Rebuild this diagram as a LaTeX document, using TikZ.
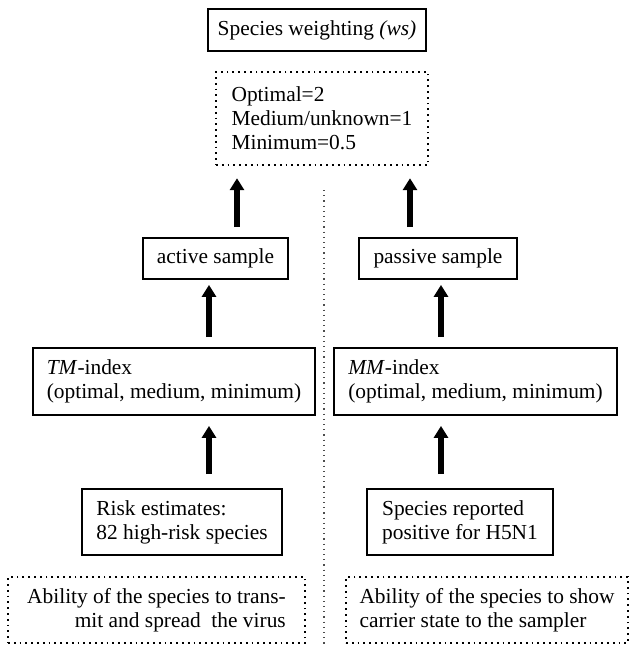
\documentclass[tikz,border=0pt]{standalone}
\usepackage{fontspec}
\setmainfont{Liberation Serif}
\usetikzlibrary{arrows.meta}

\begin{document}
\begin{tikzpicture}
[x = 0.5pt, y = -0.5pt, every node/.style = {shape = rectangle, draw, line width = 0.9pt, inner sep = 0pt, font = \fontsize{10.7}{12}\selectfont},
 dotbox/.style = {dotted, line width = 1.2pt},
 up/.style = {line width = 2.6pt, -{Triangle[width = 7pt, length = 6pt]}}]
\useasboundingbox (0,0) rectangle (635,645);
\node (ws) [minimum width = 109pt, minimum height = 21pt, line width = 1.3pt] at (317,30) {Species weighting \textit{(ws)}};
\node (wt) [dotbox, minimum width = 106pt, minimum height = 46.5pt, align = left] at (322,118.5) {Optimal=2\\Medium/unknown=1\\Minimum=0.5};
\node (act) [minimum width = 72.5pt, minimum height = 20.5pt] at (215.5,258.5) {active sample};
\node (pas) [minimum width = 79pt, minimum height = 20.5pt] at (438,258.5) {passive sample};
\node (tm) [minimum width = 141pt, minimum height = 33.5pt, align = left] at (174,381.5) {\textit{TM}-index\\(optimal, medium, minimum)};
\node (mm) [minimum width = 141.5pt, minimum height = 33.5pt, align = left] at (475.5,381.5) {\textit{MM}-index\\(optimal, medium, minimum)};
\node (risk) [minimum width = 100pt, minimum height = 33pt, align = left] at (182,522) {Risk estimates:\\82 high-risk species};
\node (rep) [minimum width = 93pt, minimum height = 33pt, align = left] at (460,522) {Species reported\\positive for H5N1};
\node (abl) [dotbox, minimum width = 148.5pt, minimum height = 33pt, align = right] at (156.5,610) {Ability of the species to trans-\\mit and spread\ \ the virus};
\node (abr) [dotbox, minimum width = 141pt, minimum height = 33pt, align = left] at (487,610) {Ability of the species to show\\carrier state to the sampler};

% arrow columns and the middle rule
\coordinate (xa) at (237,0);
\coordinate (xb) at (410,0);
\coordinate (xc) at (209,0);
\coordinate (xd) at (441,0);
\coordinate (septop) at (324,190);
\coordinate (sepbot) at (324,645);
\draw[dotted, line width = 0.6pt, black!70] (septop) -- (sepbot);

\draw[up, shorten < = 5pt, shorten > = 6pt] (act.north -| xa) -- (wt.south -| xa);
\draw[up, shorten < = 5pt, shorten > = 6pt] (pas.north -| xb) -- (wt.south -| xb);
\draw[up, shorten < = 5pt, shorten > = 2.5pt] (tm.north -| xc) -- (act.south -| xc);
\draw[up, shorten < = 5pt, shorten > = 2.5pt] (mm.north -| xd) -- (pas.south -| xd);
\draw[up, shorten < = 7pt, shorten > = 5pt] (risk.north -| xc) -- (tm.south -| xc);
\draw[up, shorten < = 7pt, shorten > = 5pt] (rep.north -| xd) -- (mm.south -| xd);
\end{tikzpicture}
\end{document}
